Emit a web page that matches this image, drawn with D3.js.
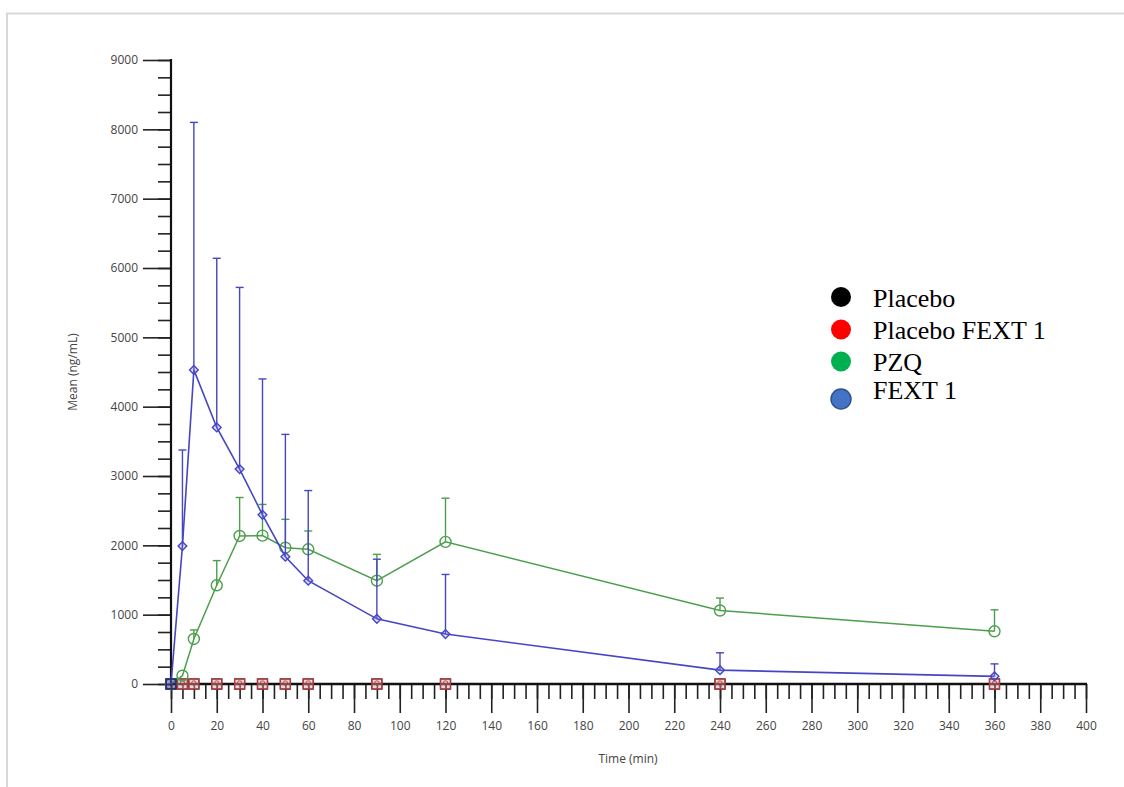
<!DOCTYPE html>
<html>
<head>
<meta charset="utf-8">
<script src="https://cdn.jsdelivr.net/npm/d3@7"></script>
<style>
  body { margin: 0; background: #fff; }
  svg { display: block; }
</style>
</head>
<body>
<svg id="chart" width="1124" height="787"></svg>
<script>
// ---- data ----
const times = [0, 5, 10, 20, 30, 40, 50, 60, 90, 120, 240, 360];
const placeboMean = [0, 0, 0, 0, 0, 0, 0, 0, 0, 0, 0, 0];
const placeboFextMean = [0, 0, 0, 0, 0, 0, 0, 0, 0, 0, 0, 0];
const pzqMean  = [0, 120, 650, 1424, 2135, 2140, 1966, 1943, 1490, 2050, 1060, 760];
const pzqUpper = [0, 120, 780, 1780, 2690, 2590, 2375, 2207, 1870, 2680, 1240, 1070];
const fextMean  = [0, 1990, 4530, 3700, 3100, 2440, 1836, 1490, 940, 720, 200, 110];
const fextUpper = [0, 3375, 8100, 6140, 5720, 4400, 3600, 2790, 1800, 1580, 450, 290];
const legendLabels = ["Placebo", "Placebo FEXT 1", "PZQ", "FEXT 1"];
const legendColors = ["#000000", "#FF0000", "#00B050", "#4472C4"];
const xTicks = d3.range(0, 401, 20);
const xMinorTicks = d3.range(0, 401, 5);
const yTicks = d3.range(0, 9001, 1000);
const yMinorTicks = d3.range(0, 9001, 250);
const xTitle = "Time (min)";
const yTitle = "Mean (ng/mL)";

// ---- layout ----
const svg = d3.select("#chart");
const x = d3.scaleLinear().domain([0, 400]).range([171, 1086]);
const y = d3.scaleLinear().domain([0, 9000]).range([684, 60]);

// outer frame
svg.append("path")
  .attr("d", "M7,787 L7,13.5 L1124,13.5")
  .attr("fill", "none").attr("stroke", "#d9d9d9").attr("stroke-width", 2);

const font = "'Open Sans', 'Noto Sans', sans-serif";

// y axis
const yAxis = svg.append("g").attr("transform", `translate(${x(0)},0)`);
yAxis.call(d3.axisLeft(y).tickValues(yMinorTicks).tickSize(13).tickFormat(""))
  .call(g => g.select(".domain").remove());
yAxis.call(g => g.selectAll(".tick line").attr("stroke", "#222").attr("stroke-width", 1.6));
const yAxisMaj = svg.append("g").attr("transform", `translate(${x(0)},0)`);
yAxisMaj.call(d3.axisLeft(y).tickValues(yTicks).tickSize(28).tickPadding(5).tickFormat(d3.format("d")))
  .call(g => g.select(".domain").remove());
yAxisMaj.selectAll(".tick line").attr("stroke", "#222").attr("stroke-width", 1.6);
yAxisMaj.selectAll(".tick text").attr("font-family", font).attr("font-size", 12).attr("fill", "#444");
svg.append("line").attr("x1", x(0)).attr("x2", x(0)).attr("y1", y(9000) - 1).attr("y2", y(0))
  .attr("stroke", "#111").attr("stroke-width", 2.2);

// x axis
const xAxis = svg.append("g").attr("transform", `translate(0,${y(0)})`);
xAxis.call(d3.axisBottom(x).tickValues(xMinorTicks).tickSize(15).tickFormat(""))
  .call(g => g.select(".domain").remove());
xAxis.selectAll(".tick line").attr("stroke", "#222").attr("stroke-width", 1.6);
const xAxisMaj = svg.append("g").attr("transform", `translate(0,${y(0)})`);
xAxisMaj.call(d3.axisBottom(x).tickValues(xTicks).tickSize(29).tickPadding(8).tickFormat(d3.format("d")))
  .call(g => g.select(".domain").remove());
xAxisMaj.selectAll(".tick line").attr("stroke", "#222").attr("stroke-width", 1.6);
xAxisMaj.selectAll(".tick text").attr("font-family", font).attr("font-size", 12).attr("fill", "#444");
svg.append("line").attr("x1", x(0) - 1).attr("x2", x(400) + 1).attr("y1", y(0)).attr("y2", y(0))
  .attr("stroke", "#111").attr("stroke-width", 2.6);

// axis titles
svg.append("text").attr("x", 628).attr("y", 763).attr("text-anchor", "middle")
  .attr("font-family", font).attr("font-size", 12).attr("fill", "#444").text(xTitle);
svg.append("text").attr("transform", "translate(77,372) rotate(-90)").attr("text-anchor", "middle")
  .attr("font-family", font).attr("font-size", 12).attr("fill", "#444").text(yTitle);

// ---- series ----
const line = d3.line().x(d => x(d.t)).y(d => y(d.v));
function rows(mean, upper) {
  return times.map((t, i) => ({ t, v: mean[i], u: upper ? upper[i] : mean[i] }));
}
function errorBars(data, color) {
  const g = svg.append("g").attr("stroke", color).attr("stroke-width", 1.4);
  data.filter(d => d.u > d.v).forEach(d => {
    g.append("line").attr("x1", x(d.t)).attr("x2", x(d.t)).attr("y1", y(d.v)).attr("y2", y(d.u));
    g.append("line").attr("x1", x(d.t) - 4).attr("x2", x(d.t) + 4).attr("y1", y(d.u)).attr("y2", y(d.u));
  });
}

const placebo = rows(placeboMean);
const placeboF = rows(placeboFextMean);
const pzq = rows(pzqMean, pzqUpper);
const fext = rows(fextMean, fextUpper);

// placebo (dark squares)
svg.append("g").selectAll("rect").data(placebo).join("rect")
  .attr("x", d => x(d.t) - 5).attr("y", d => y(d.v) - 5).attr("width", 10).attr("height", 10)
  .attr("fill", "none").attr("stroke", "#1a1a40").attr("stroke-width", 1.3);

// placebo FEXT 1 (red squares)
const pf = svg.append("g");
pf.selectAll("rect").data(placeboF.filter(d => d.t > 0)).join("rect")
  .attr("x", d => x(d.t) - 5).attr("y", d => y(d.v) - 5).attr("width", 10).attr("height", 10)
  .attr("fill", "rgba(230,160,160,0.45)").attr("stroke", "#B23B3B").attr("stroke-width", 1.3);
pf.selectAll("circle").data(placeboF.filter(d => d.t > 0)).join("circle")
  .attr("cx", d => x(d.t)).attr("cy", d => y(d.v) - 1).attr("r", 2.2)
  .attr("fill", "none").attr("stroke", "#B23B3B").attr("stroke-width", 0.9);

// PZQ (green)
const green = "#4C9F4C";
errorBars(pzq, green);
svg.append("path").datum(pzq).attr("d", line).attr("fill", "none").attr("stroke", green).attr("stroke-width", 1.5);
svg.append("g").selectAll("circle").data(pzq).join("circle")
  .attr("cx", d => x(d.t)).attr("cy", d => y(d.v)).attr("r", 5.5)
  .attr("fill", "none").attr("stroke", green).attr("stroke-width", 1.4);

// FEXT 1 (blue)
const blue = "#4646C4";
errorBars(fext, blue);
svg.append("path").datum(fext).attr("d", line).attr("fill", "none").attr("stroke", blue).attr("stroke-width", 1.6);
svg.append("g").selectAll("path").data(fext.filter(d => d.t > 0)).join("path")
  .attr("d", d3.symbol().type(d3.symbolSquare).size(38))
  .attr("transform", d => `translate(${x(d.t)},${y(d.v)}) rotate(45)`)
  .attr("fill", "rgba(120,120,230,0.25)").attr("stroke", blue).attr("stroke-width", 1.4);
// origin marker: overlapping placebo square + FEXT 1 point
svg.append("g").selectAll("rect").data(fext.filter(d => d.t === 0)).join("rect")
  .attr("x", d => x(d.t) - 5).attr("y", d => y(d.v) - 5).attr("width", 10).attr("height", 10)
  .attr("fill", "rgba(60,60,140,0.5)").attr("stroke", "#23236b").attr("stroke-width", 1.4);

// ---- legend ----
const legendCy = [297, 329.5, 361.5, 399];
const legendBase = [307, 339, 370.5, 399];
const lg = svg.append("g");
legendLabels.forEach((lab, i) => {
  lg.append("circle").attr("cx", 841).attr("cy", legendCy[i]).attr("r", 10)
    .attr("fill", legendColors[i])
    .attr("stroke", i === 3 ? "#2F528F" : "none").attr("stroke-width", 1.5);
  lg.append("text").attr("x", 873).attr("y", legendBase[i])
    .attr("font-family", "'Liberation Serif', 'Times New Roman', serif").attr("font-size", 26)
    .attr("fill", "#000").text(lab);
});
</script>
</body>
</html>
